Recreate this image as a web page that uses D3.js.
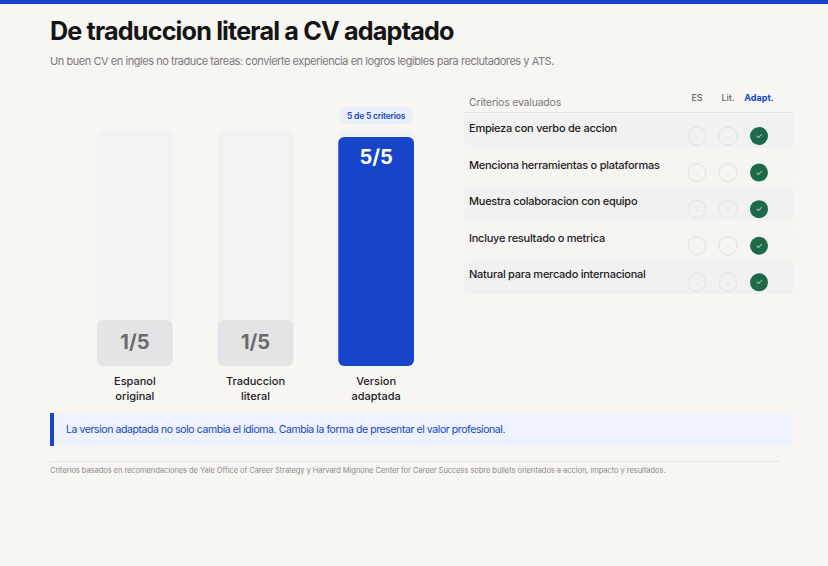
<!DOCTYPE html>
<html>
<head>
<meta charset="utf-8">
<script src="https://cdn.jsdelivr.net/npm/d3@7"></script>
<style>
  html, body { margin: 0; padding: 0; background: #f7f6f3; }
  svg { display: block; font-family: Inter, "Noto Sans", sans-serif; }
</style>
</head>
<body>
<script>
// chart data
var versions = ["Espanol original", "Traduccion literal", "Version adaptada"];
var scores = [1, 1, 5];
var maxScore = 5;
var criteria = [
  "Empieza con verbo de accion",
  "Menciona herramientas o plataformas",
  "Muestra colaboracion con equipo",
  "Incluye resultado o metrica",
  "Natural para mercado internacional"
];
var columns = ["ES", "Lit.", "Adapt."];
var checksES = [0, 0, 0, 0, 0];
var checksLit = [0, 0, 0, 0, 0];
var checksAdapt = [1, 1, 1, 1, 1];

var W = 828, H = 566;
var blue = "#1745c9", green = "#1b6a48";

var svg = d3.select("body").append("svg").attr("width", W).attr("height", H);
svg.append("rect").attr("width", W).attr("height", H).attr("fill", "#f7f6f3");
svg.append("rect").attr("width", W).attr("height", 4).attr("fill", blue);

svg.append("text").attr("x", 50).attr("y", 40)
  .attr("font-size", 25.2).attr("font-weight", 700).attr("fill", "#141414")
  .attr("letter-spacing", -0.85)
  .text("De traduccion literal a CV adaptado");
svg.append("text").attr("x", 50).attr("y", 65)
  .attr("font-size", 11).attr("fill", "#7a7a7a").attr("letter-spacing", -0.45)
  .text("Un buen CV en ingles no traduce tareas: convierte experiencia en logros legibles para reclutadores y ATS.");

// bars
var x = d3.scaleBand().domain(versions).range([97, 414]).paddingInner(0.372).paddingOuter(0);
var y = d3.scaleLinear().domain([0, maxScore]).range([366, 137]);
var trackTop = 130;

var g = svg.append("g");
var col = g.selectAll("g.col").data(versions).join("g").attr("class", "col");

col.append("rect")
  .attr("x", function(d) { return x(d); }).attr("y", trackTop)
  .attr("width", x.bandwidth()).attr("height", y(0) - trackTop)
  .attr("rx", 6).attr("fill", "#f2f2f2");

col.append("rect")
  .attr("x", function(d) { return x(d); })
  .attr("y", function(d, i) { return y(scores[i]); })
  .attr("width", x.bandwidth())
  .attr("height", function(d, i) { return y(0) - y(scores[i]); })
  .attr("rx", 6)
  .attr("fill", function(d, i) { return scores[i] === maxScore ? blue : "#e4e4e6"; });

col.append("text")
  .attr("x", function(d) { return x(d) + x.bandwidth() / 2; })
  .attr("y", function(d, i) {
    return scores[i] === maxScore ? y(scores[i]) + 27 : (y(scores[i]) + y(0)) / 2 + 6;
  })
  .attr("text-anchor", "middle").attr("font-size", 20).attr("font-weight", 700)
  .attr("fill", function(d, i) { return scores[i] === maxScore ? "#fff" : "#6b6b6b"; })
  .text(function(d, i) { return scores[i] + "/" + maxScore; });

col.append("text")
  .attr("text-anchor", "middle").attr("font-size", 11).attr("font-weight", 500).attr("fill", "#222")
  .selectAll("tspan").data(function(d) {
    var w = d.split(" ");
    return w.map(function(t) { return { t: t, cx: x(d) + x.bandwidth() / 2 }; });
  }).join("tspan")
  .attr("x", function(d) { return d.cx; })
  .attr("y", function(d, i) { return 385 + i * 15; })
  .text(function(d) { return d.t; });

// badge above best bar
var best = versions[scores.indexOf(maxScore)];
var bx = x(best) + x.bandwidth() / 2;
svg.append("rect").attr("x", bx - 37).attr("y", 107).attr("width", 74).attr("height", 17)
  .attr("rx", 8).attr("fill", "#eaf0fb");
svg.append("text").attr("x", bx).attr("y", 119).attr("text-anchor", "middle")
  .attr("font-size", 8.5).attr("font-weight", 600).attr("fill", blue).attr("letter-spacing", -0.2)
  .text(scores[scores.indexOf(maxScore)] + " de " + maxScore + " criterios");

// criteria table
var rowY = d3.scaleBand().domain(criteria).range([114, 294]).paddingInner(0.08);
var colX = d3.scalePoint().domain(columns).range([697, 759]);
var checks = [checksES, checksLit, checksAdapt];

svg.append("text").attr("x", 469).attr("y", 106).attr("font-size", 10.5)
  .attr("fill", "#7a7a7a").attr("letter-spacing", -0.2).text("Criterios evaluados");
svg.selectAll("text.colh").data(columns).join("text").attr("class", "colh")
  .attr("x", function(d) { return colX(d); }).attr("y", 101)
  .attr("text-anchor", "middle").attr("font-size", 9)
  .attr("font-weight", function(d, i) { return i === 2 ? 700 : 500; })
  .attr("fill", function(d, i) { return i === 2 ? blue : "#666"; })
  .text(function(d) { return d; });
svg.append("line").attr("x1", 464).attr("x2", 793).attr("y1", 112.5).attr("y2", 112.5)
  .attr("stroke", "#e6e6e6");

var rows = svg.selectAll("g.row").data(criteria).join("g").attr("class", "row")
  .attr("transform", function(d) { return "translate(0," + rowY(d) + ")"; });
rows.append("rect").attr("x", 464).attr("width", 329).attr("height", rowY.bandwidth())
  .attr("rx", 4)
  .attr("fill", function(d, i) { return i % 2 === 0 ? "#f1f1f1" : "#f6f5f2"; });
rows.append("text").attr("x", 469).attr("y", 18).attr("font-size", 11).attr("font-weight", 500)
  .attr("fill", "#222").attr("letter-spacing", -0.25).text(function(d) { return d; });

columns.forEach(function(c, ci) {
  rows.append("circle")
    .attr("cx", colX(c)).attr("cy", 22).attr("r", 9)
    .attr("fill", function(d, i) { return checks[ci][i] ? green : "none"; })
    .attr("stroke", function(d, i) { return checks[ci][i] ? "none" : "#e2e2e2"; });
  rows.append("text")
    .attr("x", colX(c)).attr("y", 25).attr("text-anchor", "middle")
    .attr("font-size", function(d, i) { return checks[ci][i] ? 8 : 6; })
    .attr("fill", function(d, i) { return checks[ci][i] ? "#d8d8d8" : "#d0d0d0"; })
    .text(function(d, i) { return checks[ci][i] ? "\u2713" : "-"; });
});

// callout
var callout = svg.append("g");
callout.append("rect").attr("x", 50).attr("y", 413).attr("width", 742).attr("height", 33)
  .attr("rx", 6).attr("fill", "#edf2fc");
callout.append("rect").attr("x", 50).attr("y", 413).attr("width", 4).attr("height", 33)
  .attr("fill", blue);
callout.append("text").attr("x", 66).attr("y", 433).attr("font-size", 10.5)
  .attr("fill", "#1a44c0").attr("letter-spacing", -0.42)
  .text("La version adaptada no solo cambia el idioma. Cambia la forma de presentar el valor profesional.");

svg.append("line").attr("x1", 50).attr("x2", 780).attr("y1", 461.5).attr("y2", 461.5)
  .attr("stroke", "#e6e6e6");
svg.append("text").attr("x", 50).attr("y", 473).attr("font-size", 7.5).attr("fill", "#8a8a8a")
  .attr("letter-spacing", -0.05)
  .text("Criterios basados en recomendaciones de Yale Office of Career Strategy y Harvard Mignone Center for Career Success sobre bullets orientados a accion, impacto y resultados.");
</script>
</body>
</html>
